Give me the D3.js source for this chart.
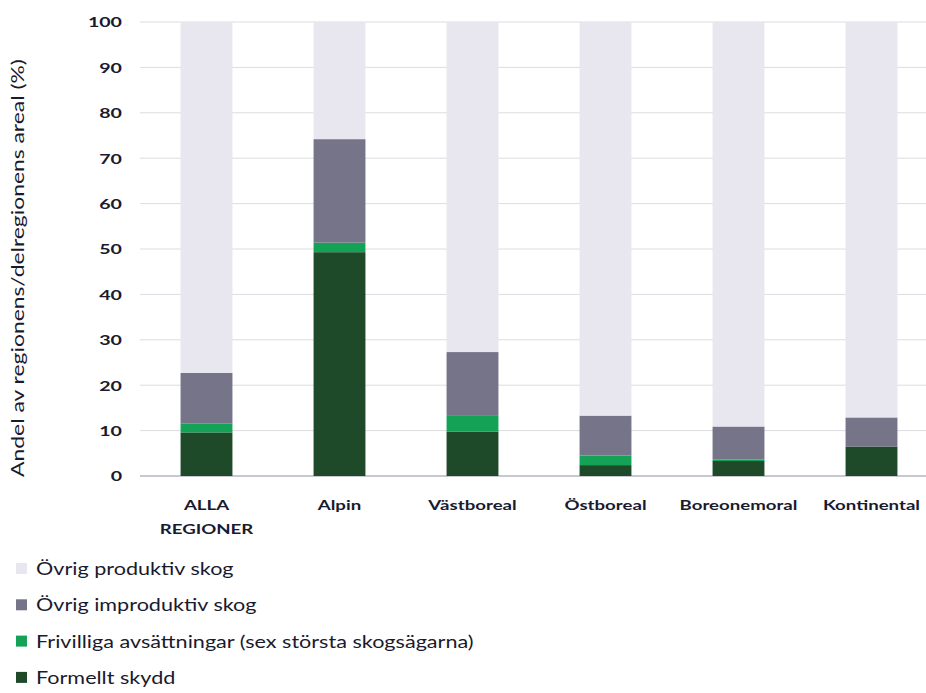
<!DOCTYPE html>
<html><head><meta charset="utf-8">
<script src="https://cdn.jsdelivr.net/npm/d3@7"></script>
<style>body{margin:0;background:#fff}svg{display:block}text{font-family:Lato,"Open Sans",sans-serif;fill:#1a1a2e}</style>
</head><body><svg id="c" width="926" height="693"></svg>
<script>
const categories = ["ALLA REGIONER","Alpin","Västboreal","Östboreal","Boreonemoral","Kontinental"];
const seriesNames = ["Formellt skydd","Frivilliga avsättningar (sex största skogsägarna)","Övrig improduktiv skog","Övrig produktiv skog"];
const formellt = [9.6, 49.3, 9.8, 2.4, 3.3, 6.5];
const frivilliga = [2.0, 2.1, 3.6, 2.1, 0.3, 0.0];
const improduktiv = [11.1, 22.8, 13.9, 8.8, 7.3, 6.4];
const produktiv = categories.map((c,i)=>100 - formellt[i]-frivilliga[i]-improduktiv[i]);
const colors = ["#1f4a2a","#14a356","#757489","#e8e7ef"];
const yTicks = [0,10,20,30,40,50,60,70,80,90,100];

function stretch(sel, f){
  sel.each(function(){
    const w = this.getComputedTextLength();
    d3.select(this).attr("textLength", w*f).attr("lengthAdjust","spacingAndGlyphs");
  });
}

const svg = d3.select("#c");
const x = d3.scaleBand().domain(categories).range([140,938]).paddingInner(0.61).paddingOuter(0.305);
const y = d3.scaleLinear().domain([0,100]).range([476,22]);

svg.append("g").selectAll("line").data(yTicks).join("line")
  .attr("x1",140).attr("x2",926).attr("y1",d=>y(d)).attr("y2",d=>y(d))
  .attr("stroke",d=>d===0?"#c8c8d0":"#dcdce2").attr("stroke-width",d=>d===0?2:1);

const data = categories.map((c,i)=>({cat:c, vals:[formellt[i],frivilliga[i],improduktiv[i],produktiv[i]]}));
const stack = d3.stack().keys([0,1,2,3]).value((d,k)=>d.vals[k]);
const layers = stack(data);
svg.append("g").selectAll("g").data(layers).join("g")
  .attr("fill",(d,i)=>colors[i])
  .selectAll("rect").data(d=>d).join("rect")
  .attr("x",d=>x(d.data.cat)).attr("width",x.bandwidth())
  .attr("y",d=>y(d[1])).attr("height",d=>y(d[0])-y(d[1]));

const ya = svg.append("g").attr("transform","translate(122,0)")
  .call(d3.axisLeft(y).tickValues(yTicks).tickSize(0).tickPadding(0));
ya.select(".domain").remove();
ya.selectAll("text").style("font-size","14px").style("font-weight","bold").attr("fill","#1a1a2e").attr("dy","0.35em");
stretch(ya.selectAll("text"),1.4);

const xa = svg.append("g").attr("transform","translate(0,476)")
  .call(d3.axisBottom(x).tickSize(0).tickPadding(0).tickFormat(""));
xa.select(".domain").remove();
xa.selectAll(".tick").each(function(d){
  const g = d3.select(this);
  const words = d==="ALLA REGIONER" ? ["ALLA","REGIONER"] : [d];
  words.forEach((w,j)=>g.append("text").attr("y",34+j*24).attr("text-anchor","middle")
    .style("font-size","13.5px").style("font-weight","bold").text(w));
});
stretch(xa.selectAll("text"),1.38);

const title = svg.append("text").attr("transform","translate(24,268) rotate(-90)").attr("text-anchor","middle")
  .style("font-size","18px").text("Andel av regionens/delregionens areal (%)");
stretch(title,1.27);

const legOrder = [3,2,1,0];
const lg = svg.append("g").selectAll("g").data(legOrder).join("g")
  .attr("transform",(d,i)=>`translate(16,${569+i*36.3})`);
lg.append("rect").attr("x",0).attr("y",-6).attr("width",11).attr("height",11).attr("fill",d=>colors[d]);
const lt = lg.append("text").attr("x",20).attr("dy","0.35em").style("font-size","17px").text(d=>seriesNames[d]);
stretch(lt,1.27);
</script></body></html>
